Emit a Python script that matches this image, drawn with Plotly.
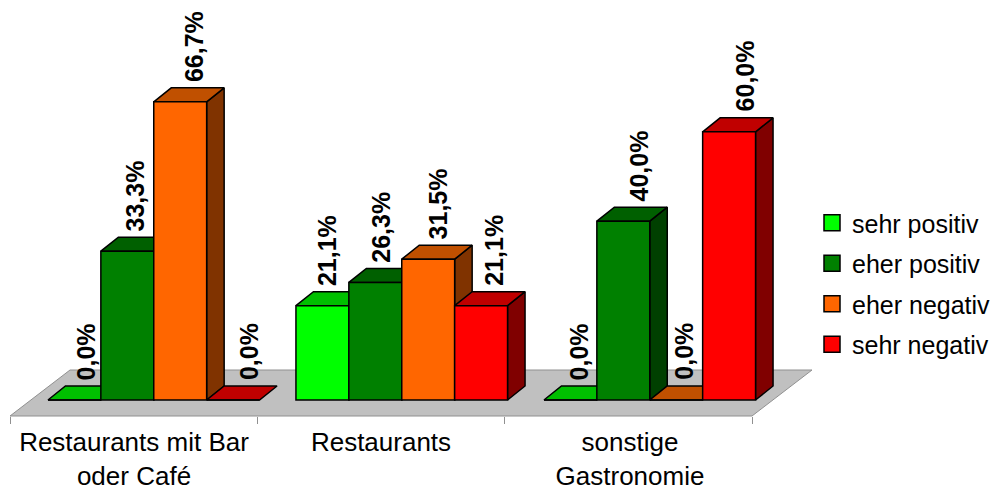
import plotly.graph_objects as go

# Survey shares in percent, one list per answer, one value per business type
categories = ["Restaurants mit Bar<br>oder Café", "Restaurants", "sonstige<br>Gastronomie"]
sehr_positiv = [0.0, 21.1, 0.0]
eher_positiv = [33.3, 26.3, 40.0]
eher_negativ = [66.7, 31.5, 0.0]
sehr_negativ = [0.0, 21.1, 60.0]
series_names = ["sehr positiv", "eher positiv", "eher negativ", "sehr negativ"]
series_values = [sehr_positiv, eher_positiv, eher_negativ, sehr_negativ]

# Face colours of each block: front, top, side
front_colors = ["#00FF00", "#008000", "#FF6600", "#FF0000"]
top_colors = ["#00C000", "#006000", "#C05000", "#C00000"]
side_colors = ["#008000", "#004000", "#803300", "#800000"]

FONT = "Liberation Sans"
W, H = 993, 490

# Axis scales: one x unit is one category, y is in percent
PX_X, PX_Y = 248.0, 4.47
X0_PX, Y0_PX = 153.75, 400.0
x_range = [-X0_PX / PX_X, (W - X0_PX) / PX_X]
y_range = [(Y0_PX - H) / PX_Y, Y0_PX / PX_Y]

BAR_W = 52.9 / PX_X
DEPTH_X, DEPTH_Y = 17.5 / PX_X, 14 / PX_Y

FLOOR_L, FLOOR_R = (10 - X0_PX) / PX_X, (752 - X0_PX) / PX_X
FLOOR_FRONT = (Y0_PX - 416) / PX_Y
FLOOR_DX, FLOOR_DY = 60 / PX_X, 46 / PX_Y
cell_ticks = [FLOOR_L, (257.5 - X0_PX) / PX_X, (504 - X0_PX) / PX_X, FLOOR_R]
category_label_x = [(134 - X0_PX) / PX_X, (381 - X0_PX) / PX_X, (630 - X0_PX) / PX_X]

# Horizontal fine-tuning of the rotated value labels, in pixels
label_shift = [
    [11.5, 7.5, 14.5, 15.5],
    [4.5, 5.5, 9.5, 13.5],
    [8.5, 15.5, 7.0, 16.0],
]

fig = go.Figure()


def face(xs, ys, color, line="#000000", width=1.5):
    fig.add_trace(go.Scatter(
        x=xs + xs[:1], y=ys + ys[:1], mode="lines", fill="toself", fillcolor=color,
        line=dict(color=line, width=width), hoverinfo="skip", showlegend=False,
    ))


# Grey floor the blocks stand on
face([FLOOR_L, FLOOR_R, FLOOR_R + FLOOR_DX, FLOOR_L + FLOOR_DX],
     [FLOOR_FRONT, FLOOR_FRONT, FLOOR_FRONT + FLOOR_DY, FLOOR_FRONT + FLOOR_DY],
     "#C0C0C0", line="#909090", width=1)

# Side and top faces, painted left to right so later blocks cover earlier ones
annotations = []
for c in range(len(categories)):
    for s, values in enumerate(series_values):
        v = values[c]
        left = c + (s - 2) * BAR_W
        right = left + BAR_W
        if v > 0:
            face([right, right + DEPTH_X, right + DEPTH_X, right],
                 [0, DEPTH_Y, v + DEPTH_Y, v], side_colors[s])
        face([left, right, right + DEPTH_X, left + DEPTH_X],
             [v, v, v + DEPTH_Y, v + DEPTH_Y], top_colors[s])
        annotations.append(dict(
            x=left + BAR_W / 2, y=v + DEPTH_Y, xref="x", yref="y",
            text=f"<b>{v:.1f}%</b>".replace(".", ","), textangle=-90, showarrow=False,
            xanchor="center", yanchor="bottom", xshift=label_shift[c][s], yshift=4,
            font=dict(family=FONT, size=25, color="#000000"),
        ))

# Front faces on an overlaid axis pair so they sit above every other face
for s, values in enumerate(series_values):
    fig.add_trace(go.Bar(
        x=[0, 1, 2], y=values, name=series_names[s], xaxis="x2", yaxis="y2",
        marker=dict(color=front_colors[s], line=dict(color="#000000", width=1.5)),
        showlegend=False, hoverinfo="skip",
    ))

# Legend entries with square keys
for s, name in enumerate(series_names):
    fig.add_trace(go.Scatter(
        x=[None], y=[None], mode="markers", name=name, legendgroup=name,
        marker=dict(symbol="square", size=16, color=front_colors[s],
                    line=dict(color="#000000", width=1.5)),
    ))

fig.update_layout(
    width=W, height=H, autosize=False,
    margin=dict(l=0, r=0, t=0, b=0, autoexpand=False),
    paper_bgcolor="#FFFFFF", plot_bgcolor="#FFFFFF",
    barmode="group", bargap=1 - 4 * BAR_W, bargroupgap=0,
    font=dict(family=FONT, color="#000000"),
    showlegend=True,
    legend=dict(
        x=(812 / W), y=1 - 200 / H, xanchor="left", yanchor="top",
        font=dict(family=FONT, size=25, color="#000000"),
        bgcolor="rgba(0,0,0,0)", tracegroupgap=5, itemsizing="trace",
    ),
    xaxis=dict(
        range=x_range, anchor="free", position=(H - 416) / H, domain=[0, 1],
        tickmode="array", tickvals=category_label_x, ticktext=categories,
        ticks="", showgrid=False, zeroline=False, showline=False,
        ticklabelstandoff=8, automargin=False,
        tickfont=dict(family=FONT, size=26, color="#000000"),
        minor=dict(tickmode="array", tickvals=cell_ticks, ticks="outside", ticklen=7,
                   tickcolor="#909090", tickwidth=1, showgrid=False),
    ),
    yaxis=dict(range=y_range, domain=[0, 1], visible=False),
    xaxis2=dict(range=x_range, overlaying="x", visible=False, domain=[0, 1]),
    yaxis2=dict(range=y_range, overlaying="y", visible=False, domain=[0, 1]),
    annotations=annotations,
)

fig.write_html("out.html")
